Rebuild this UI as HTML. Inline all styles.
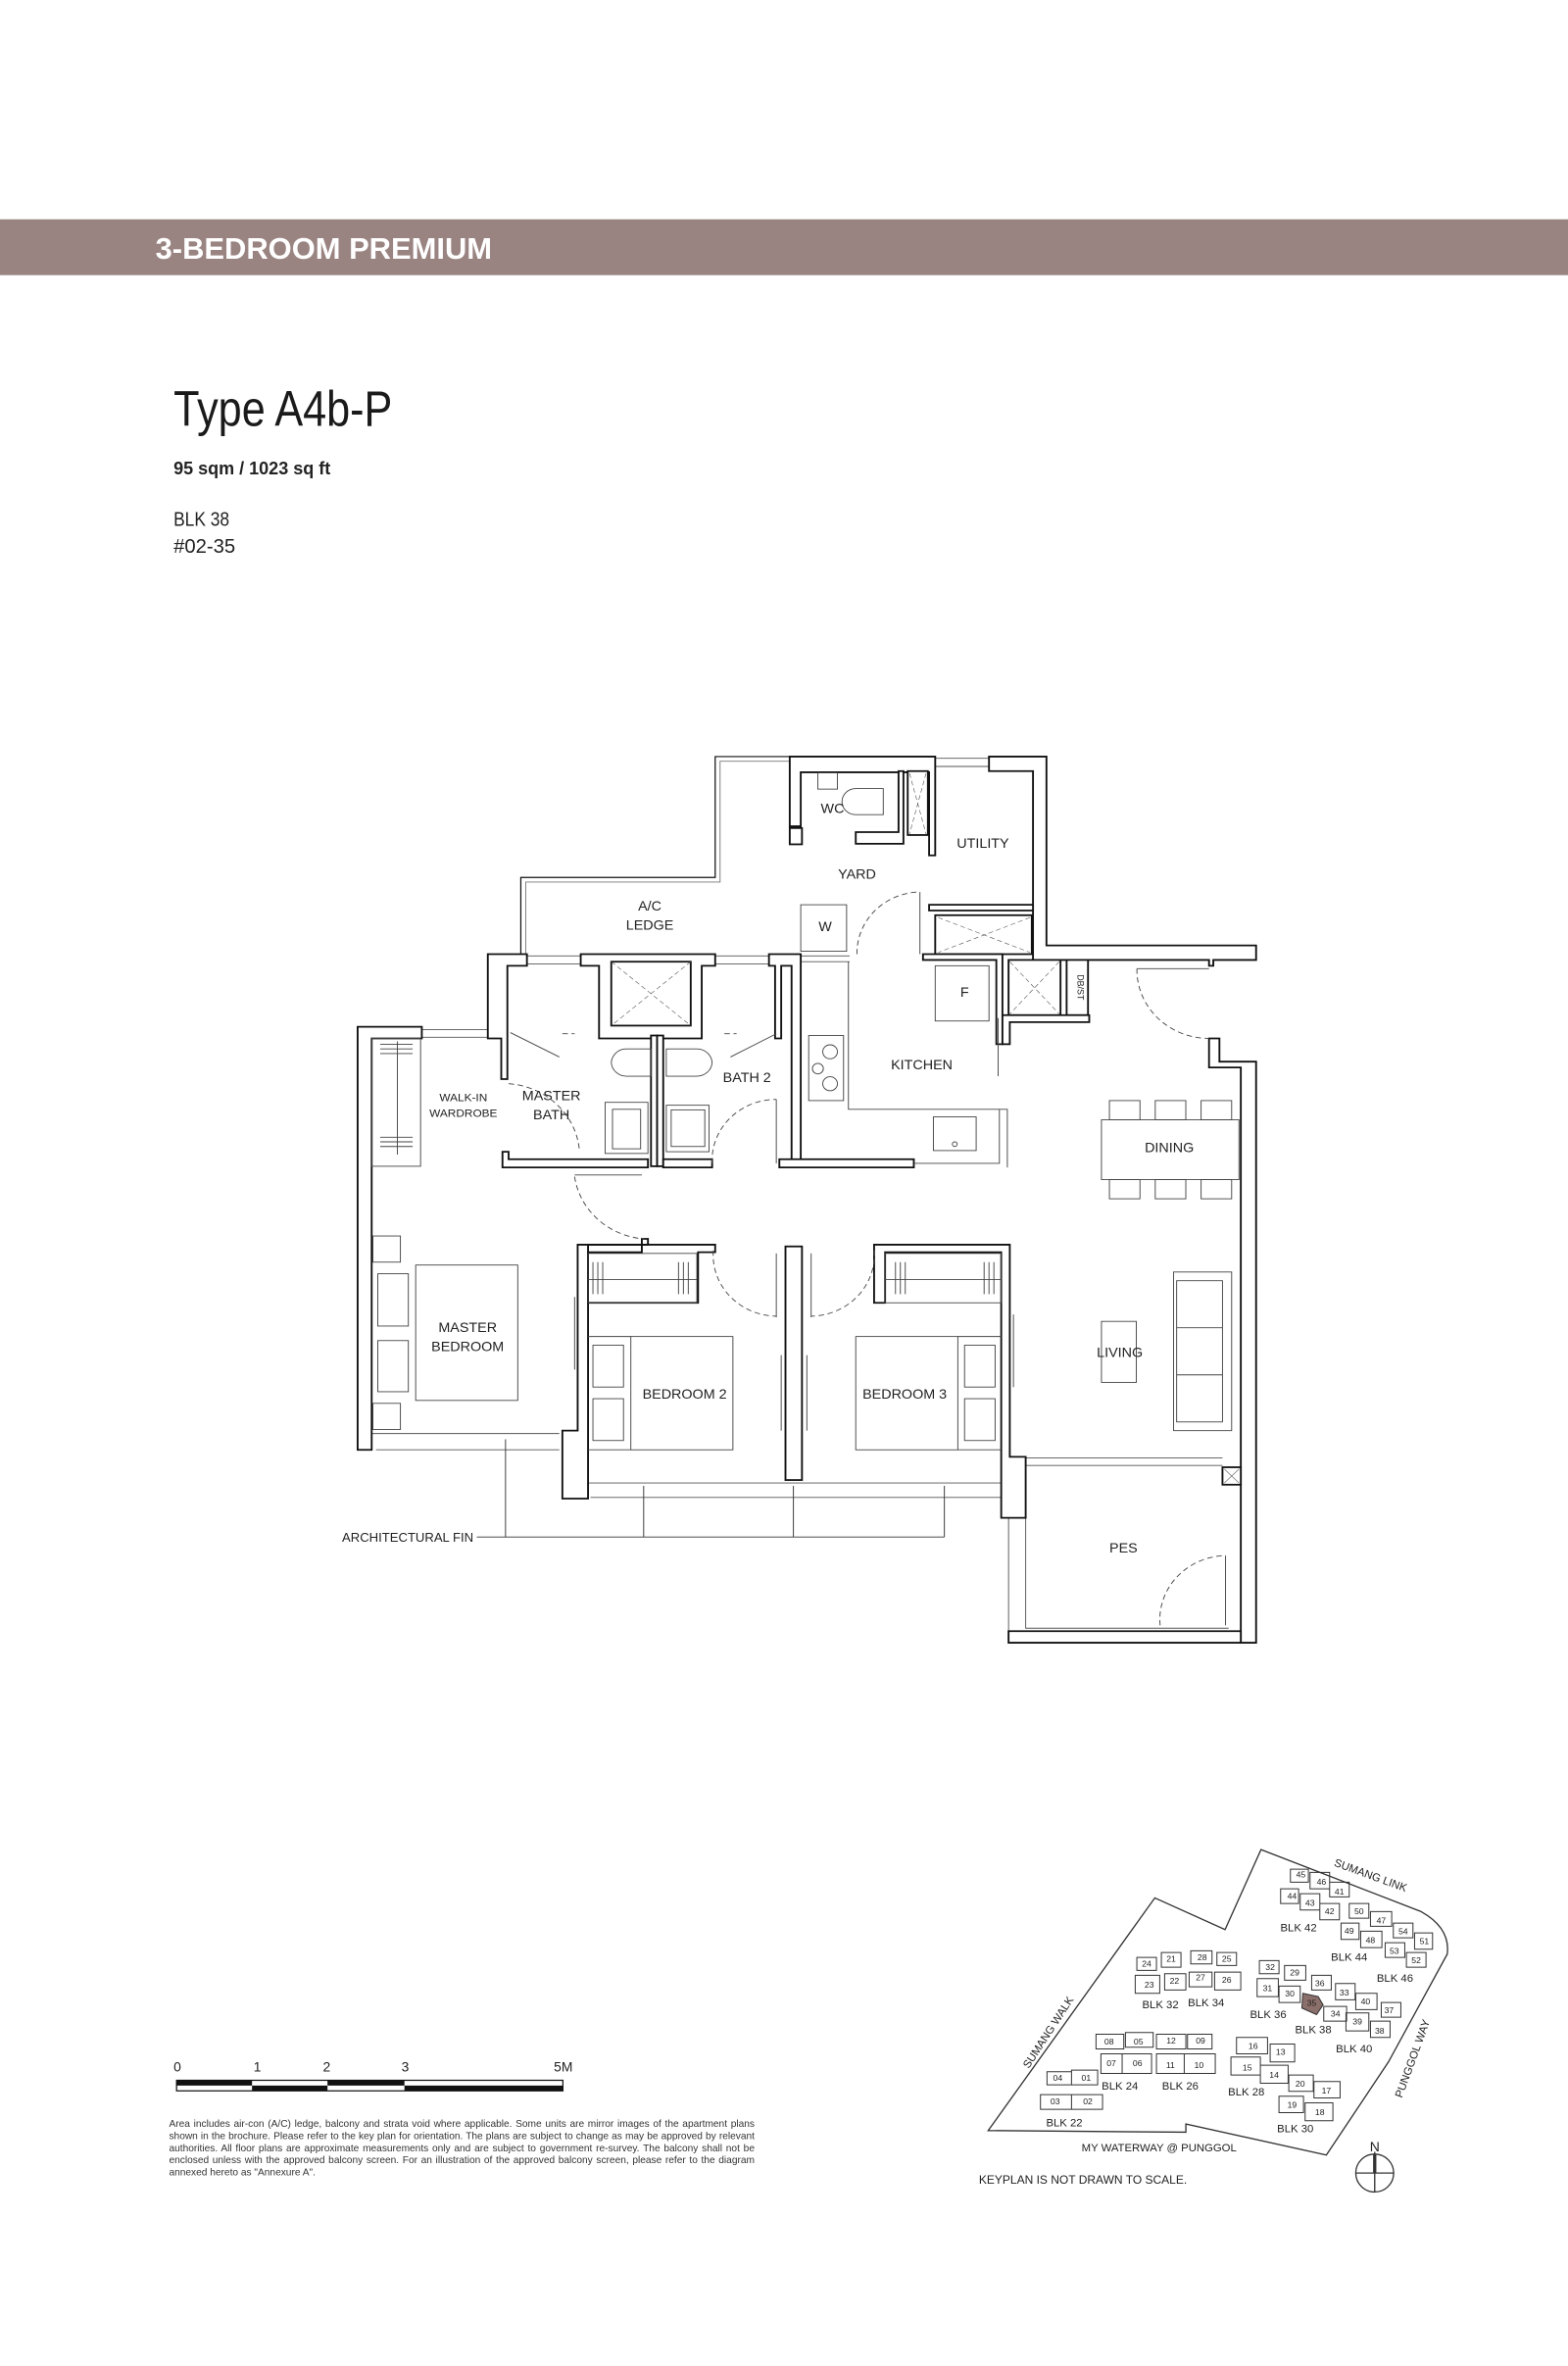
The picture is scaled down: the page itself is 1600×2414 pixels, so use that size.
<!DOCTYPE html>
<html><head><meta charset="utf-8"><style>
html,body{margin:0;padding:0;background:#fff}
svg{display:block}
text{font-family:"Liberation Sans",sans-serif;fill:#222}
.n{font-family:"Liberation Sans Narrow","Liberation Sans",sans-serif}
</style></head><body>
<svg width="1600" height="2414" viewBox="0 0 1039 1567" xmlns="http://www.w3.org/2000/svg">
<rect x="0" y="0" width="1039" height="1567" fill="#fff"/>
<rect x="0" y="145" width="1039" height="37" fill="#9a8482"/>
<text x="103" y="171" font-size="20" font-weight="bold" fill="#fff" style="fill:#fff" textLength="223" lengthAdjust="spacingAndGlyphs">3-BEDROOM PREMIUM</text>
<text class="n" x="115" y="282" font-size="33" style="fill:#1a1a1a" textLength="145" lengthAdjust="spacingAndGlyphs">Type A4b-P</text>
<text class="n" x="115" y="314" font-size="12" font-weight="bold" textLength="104" lengthAdjust="spacingAndGlyphs">95 sqm / 1023 sq ft</text>
<text class="n" x="115" y="348" font-size="13" textLength="37" lengthAdjust="spacingAndGlyphs">BLK 38</text>
<text class="n" x="115" y="366" font-size="13" textLength="41" lengthAdjust="spacingAndGlyphs">#02-35</text>

<!-- FLOOR PLAN in zoom coords -->
<g transform="translate(214.7,487.5) scale(0.405,0.385)" fill="none" stroke="#111" stroke-width="3">
 <path d="M322,375 V243 H640 V35 H762" stroke-width="2"/>
 <path d="M330,375 V251 H648 V43 H762" stroke-width="1.5" stroke="#777"/>
 <g stroke-width="1.5" stroke="#555">
  <path d="M332,378 H420 M332,392 H420 M640,378 H728 M640,392 H728 M160,505 H268 M160,518 H268 M1000,38 H1088 M1000,52 H1088 M780,378 H860 M780,388 H860"/>
  <path d="M78,1200 H385 M85,1228 H385 M430,1285 H1108 M436,1310 H1108 M1148,1242 H1470 M1148,1255 H1470 M1120,1345 V1560 M1148,1345 V1535 H1480"/>
 </g>
 <g fill="#fff">
  <path d="M55,500 H160 V520 H78 V1200 V1228 H55 Z"/>
  <path d="M268,375 H332 V395 H300 V590 H290 V520 H268 Z"/>
  <path d="M292,715 H302 V728 H530 V742 H292 Z"/>
  <path d="M420,375 H640 V395 H618 V520 H450 V395 H420 Z"/>
  <rect x="470" y="388" width="130" height="110"/>
  <rect x="535" y="515" width="10" height="225"/>
  <rect x="545" y="515" width="10" height="225"/>
  <path d="M728,375 H780 V740 H765 V395 H748 V520 H738 V395 H728 Z"/>
  <path d="M555,728 H635 V742 H555 Z M745,728 H965 V742 H745 Z"/>
  <path d="M762,35 H1000 V205 H990 V62 H780 V155 H762 Z"/>
  <rect x="762" y="158" width="20" height="28"/>
  <path d="M870,165 H940 V60 H948 V185 H870 Z"/>
  <rect x="955" y="60" width="33" height="110"/>
  <path d="M1088,35 H1182 V360 H1525 V385 H1455 V395 H1448 V385 H1160 V60 H1088 Z"/>
  <path d="M990,290 H1160 V300 H990 Z"/>
  <rect x="1000" y="308" width="158" height="67"/>
  <path d="M980,375 H1110 V530 H1100 V385 H980 Z"/>
  <rect x="1120" y="385" width="85" height="95"/>
  <rect x="1215" y="385" width="35" height="95"/>
  <path d="M1110,480 H1252 V492 H1122 V530 H1110 Z"/>
  <path d="M1448,520 H1465 V560 H1525 V1560 H1500 V570 H1448 Z"/>
  <path d="M390,1195 H415 V875 H530 V865 H520 V888 H432 V1312 H390 Z" />
  <path d="M432,875 H640 V888 H612 V975 H432 Z" fill="none"/>
  <rect x="755" y="878" width="27" height="402"/>
  <path d="M900,875 H1122 V1240 H1148 V1345 H1108 V888 H918 V975 H900 Z"/>
  <path d="M1120,1540 H1500 V1560 H1120 Z"/>
  <rect x="1470" y="1258" width="30" height="30"/>
 </g>
 <g stroke-width="1" stroke-dasharray="8,5" stroke="#555">
  <path d="M470,388 L600,498 M600,388 L470,498 M1005,312 L1155,372 M1155,312 L1005,372 M1122,388 L1203,478 M1203,388 L1122,478 M958,64 L985,168 M985,64 L958,168"/>
  <path d="M1473,1261 L1497,1285 M1497,1261 L1473,1285" stroke-dasharray="none"/>
 </g>
 <g stroke-width="1.5" stroke="#444">
  <rect x="78" y="520" width="80" height="220"/>
  <path d="M120,525 V720 M92,530 H145 M92,538 H145 M92,546 H145 M92,690 H145 M92,698 H145 M92,706 H145"/>
  <rect x="150" y="910" width="167" height="233"/>
  <rect x="88" y="925" width="50" height="90"/><rect x="88" y="1040" width="50" height="88"/>
  <rect x="80" y="860" width="45" height="45"/><rect x="80" y="1148" width="45" height="45"/>
  <rect x="432" y="890" width="178" height="85"/><path d="M432,935 H610 M440,905 V960 M448,905 V960 M456,905 V960 M580,905 V960 M588,905 V960 M596,905 V960"/>
  <rect x="502" y="1033" width="167" height="195"/><rect x="440" y="1048" width="50" height="72"/><rect x="440" y="1140" width="50" height="72"/><path d="M432,1033 H502 M432,1228 H502"/>
  <rect x="918" y="890" width="190" height="85"/><path d="M918,935 H1108 M935,905 V960 M943,905 V960 M951,905 V960 M1080,905 V960 M1088,905 V960 M1096,905 V960"/>
  <rect x="870" y="1033" width="167" height="195"/><rect x="1048" y="1048" width="50" height="72"/><rect x="1048" y="1140" width="50" height="72"/><path d="M1037,1033 H1108 M1037,1228 H1108"/>
  <rect x="1272" y="660" width="225" height="103"/>
  <rect x="1285" y="627" width="50" height="33"/><rect x="1360" y="627" width="50" height="33"/><rect x="1435" y="627" width="50" height="33"/>
  <rect x="1285" y="763" width="50" height="33"/><rect x="1360" y="763" width="50" height="33"/><rect x="1435" y="763" width="50" height="33"/>
  <rect x="1390" y="922" width="95" height="273"/><rect x="1395" y="937" width="75" height="243"/><path d="M1395,1018 H1470 M1395,1099 H1470"/>
  <rect x="1272" y="1007" width="57" height="105"/>
  <rect x="793" y="515" width="57" height="112"/><circle cx="828" cy="543" r="12"/><circle cx="828" cy="598" r="12"/><circle cx="808" cy="572" r="9"/>
  <rect x="997" y="655" width="70" height="58"/><circle cx="1032" cy="702" r="4"/>
  <rect x="1000" y="395" width="88" height="95"/>
  <path d="M858,388 V642 H1118 V742 M1105,642 V735 H965"/>
  <path d="M870,90 H915 V135 H870 A22,22 0 0 1 870,90 Z"/>
  <rect x="808" y="63" width="32" height="28"/>
  <path d="M470,562 A25,25 0 0 1 495,538 H535 V585 H495 A25,25 0 0 1 470,562 Z"/>
  <rect x="460" y="630" width="70" height="88"/><rect x="472" y="642" width="46" height="68"/>
  <path d="M635,562 A25,25 0 0 0 610,538 H560 V585 H610 A25,25 0 0 0 635,562 Z"/>
  <rect x="560" y="635" width="70" height="80"/><rect x="568" y="643" width="55" height="63"/>
  <rect x="780" y="290" width="75" height="80"/>
 </g>
 <g stroke-width="1.5" stroke="#444" stroke-dasharray="9,6">
  <path d="M302,598 A125,125 0 0 1 418,715"/>
  <path d="M410,758 A125,125 0 0 0 523,865"/>
  <path d="M637,885 A105,105 0 0 0 740,998"/>
  <path d="M900,885 A105,105 0 0 1 797,998"/>
  <path d="M635,735 A105,105 0 0 1 740,625"/>
  <path d="M872,375 A105,105 0 0 1 975,268"/>
  <path d="M1330,400 A118,118 0 0 0 1448,520"/>
  <path d="M1368,1530 A110,110 0 0 1 1475,1410"/>
  <path d="M390,512 L410,512 M655,512 L675,512"/>
 </g>
 <g stroke-width="1.5" stroke="#444">
  <path d="M305,510 L385,552 M740,512 L665,552 M1475,1410 V1530 M740,625 V735 M975,268 V375 M1330,400 H1448 M1103,485 V585 M410,755 H520"/>
  <path d="M410,965 V1090 M1128,995 V1120 M748,1065 V1195 M790,1065 V1195 M740,890 V1000 M797,890 V1000"/>
 </g>
 <g stroke-width="1.5" stroke="#333">
  <path d="M250,1378 H1015 M297,1210 V1378 M523,1290 V1378 M768,1290 V1378 M1015,1290 V1378"/>
 </g>
 <g stroke="none" fill="#222" font-size="23" text-anchor="middle">
  <text x="832" y="132">WC</text>
  <text x="1078" y="192">UTILITY</text>
  <text x="872" y="245">YARD</text>
  <text x="820" y="335">W</text>
  <text x="533" y="300">A/C</text><text x="533" y="333">LEDGE</text>
  <text x="1048" y="448">F</text>
  <text x="978" y="573">KITCHEN</text>
  <text x="228" y="628" font-size="19">WALK-IN</text><text x="228" y="655" font-size="19">WARDROBE</text>
  <text x="372" y="626">MASTER</text><text x="372" y="659">BATH</text>
  <text x="692" y="595">BATH 2</text>
  <text x="1383" y="716">DINING</text>
  <text x="235" y="1025">MASTER</text><text x="235" y="1058">BEDROOM</text>
  <text x="590" y="1140">BEDROOM 2</text>
  <text x="950" y="1140">BEDROOM 3</text>
  <text x="1302" y="1068">LIVING</text>
  <text x="1308" y="1405">PES</text>
  <text x="137" y="1386" font-size="21">ARCHITECTURAL FIN</text>
  <text x="1233" y="432" font-size="15" transform="rotate(90 1233 432)">DB/ST</text>
 </g>
</g>

<g font-size="9" class="n">
 <text x="115" y="1372">0</text><text x="168" y="1372">1</text><text x="214" y="1372">2</text><text x="266" y="1372">3</text><text x="367" y="1372">5M</text>
</g>
<rect x="117" y="1378" width="256" height="7" fill="#fff" stroke="#111" stroke-width="0.8"/>
<rect x="117" y="1378" width="50" height="3.5" fill="#111"/><rect x="167" y="1381.5" width="50" height="3.5" fill="#111"/>
<rect x="217" y="1378" width="51" height="3.5" fill="#111"/><rect x="268" y="1381.5" width="105" height="3.5" fill="#111"/>
<foreignObject x="112" y="1404" width="388" height="60">
 <div xmlns="http://www.w3.org/1999/xhtml" style="font-family:'Liberation Sans Narrow','Liberation Sans',sans-serif;font-size:6.6px;line-height:8.1px;text-align:justify;color:#333">Area includes air-con (A/C) ledge, balcony and strata void where applicable. Some units are mirror images of the apartment plans shown in the brochure. Please refer to the key plan for orientation. The plans are subject to change as may be approved by relevant authorities. All floor plans are approximate measurements only and are subject to government re-survey. The balcony shall not be enclosed unless with the approved balcony screen. For an illustration of the approved balcony screen, please refer to the diagram annexed hereto as "Annexure A".</div>
</foreignObject>

<g transform="translate(642.9,1207.8) scale(0.2165)" fill="none" stroke="#333" stroke-width="4">
 <path d="M55,940 L565,228 L780,325 L890,80 L1380,270 Q1470,320 1460,400 L1280,730 L1090,1015 L660,920 L660,945 Z"/>
 <g stroke-width="3">
  <path d="M980,140 h55 v40 h-55z M1040,150 h60 v50 h-60z M1100,180 h60 v45 h-60z M950,200 h55 v45 h-55z M1010,215 h60 v50 h-60z M1070,245 h60 v50 h-60z M1160,245 h60 v45 h-60z M1225,270 h65 v45 h-65z M1295,305 h60 v45 h-60z M1360,335 h55 v50 h-55z M1135,305 h55 v50 h-55z M1195,330 h65 v50 h-65z M1270,365 h60 v45 h-60z M1335,395 h60 v45 h-60z"/>
  <path d="M510,410 h60 v40 h-60z M585,395 h60 v45 h-60z M505,465 h75 v55 h-75z M595,460 h65 v50 h-65z M675,390 h65 v40 h-65z M755,395 h60 v40 h-60z M670,455 h70 v45 h-70z M748,455 h80 v55 h-80z"/>
  <path d="M885,420 h60 v40 h-60z M962,435 h65 v45 h-65z M878,475 h65 v55 h-65z M945,498 h65 v50 h-65z M1045,465 h60 v45 h-60z M1118,490 h60 v50 h-60z M1082,560 h70 v45 h-70z M1180,520 h65 v50 h-65z M1258,548 h60 v45 h-60z M1150,580 h70 v55 h-70z M1225,605 h60 v50 h-60z"/>
  <path d="M385,645 h85 v45 h-85z M475,640 h85 v45 h-85z M400,705 h65 v60 h-65z M465,705 h90 v60 h-90z M570,645 h90 v45 h-90z M665,645 h75 v45 h-75z M570,705 h85 v60 h-85z M655,705 h95 v60 h-95z"/>
  <path d="M815,655 h95 v50 h-95z M918,675 h75 v55 h-75z M798,715 h90 v55 h-90z M888,740 h85 v55 h-85z M975,770 h75 v50 h-75z M1052,790 h80 v50 h-80z M945,835 h75 v50 h-75z M1025,855 h85 v55 h-85z"/>
  <path d="M235,760 h75 v40 h-75z M310,755 h80 v45 h-80z M215,830 h95 v45 h-95z M310,830 h95 v45 h-95z"/>
 </g>
 <path d="M1018,520 L1065,530 L1080,555 L1060,585 L1015,565 Z" fill="#8b6f6b" stroke="#333" stroke-width="3"/>
 <g stroke="none" fill="#333" font-size="26" text-anchor="middle">
  <text x="1012" y="165">45</text><text x="1075" y="188">46</text><text x="1130" y="218">41</text><text x="985" y="232">44</text><text x="1040" y="253">43</text><text x="1100" y="278">42</text><text x="1190" y="278">50</text><text x="1258" y="306">47</text><text x="1325" y="340">54</text><text x="1390" y="370">51</text><text x="1160" y="338">49</text><text x="1225" y="366">48</text><text x="1298" y="400">53</text><text x="1365" y="428">52</text>
  <text x="540" y="438">24</text><text x="615" y="423">21</text><text x="548" y="503">23</text><text x="625" y="491">22</text><text x="710" y="418">28</text><text x="785" y="423">25</text><text x="705" y="480">27</text><text x="785" y="488">26</text>
  <text x="918" y="448">32</text><text x="993" y="465">29</text><text x="910" y="513">31</text><text x="978" y="530">30</text><text x="1070" y="498">36</text><text x="1145" y="526">33</text><text x="1045" y="558">35</text><text x="1118" y="591">34</text><text x="1210" y="553">40</text><text x="1282" y="580">37</text><text x="1185" y="615">39</text><text x="1253" y="643">38</text>
  <text x="425" y="676">08</text><text x="515" y="676">05</text><text x="432" y="743">07</text><text x="512" y="743">06</text><text x="615" y="673">12</text><text x="705" y="673">09</text><text x="613" y="748">11</text><text x="700" y="748">10</text>
  <text x="866" y="690">16</text><text x="950" y="708">13</text><text x="848" y="756">15</text><text x="930" y="778">14</text><text x="1010" y="805">20</text><text x="1090" y="826">17</text><text x="985" y="870">19</text><text x="1070" y="893">18</text>
  <text x="268" y="788">04</text><text x="355" y="788">01</text><text x="260" y="860">03</text><text x="360" y="860">02</text>
  <g font-size="34">
   <text x="1005" y="330">BLK 42</text><text x="1160" y="420">BLK 44</text><text x="1300" y="485">BLK 46</text><text x="582" y="565">BLK 32</text><text x="722" y="560">BLK 34</text><text x="912" y="595">BLK 36</text><text x="1050" y="642">BLK 38</text><text x="1175" y="700">BLK 40</text><text x="458" y="815">BLK 24</text><text x="643" y="815">BLK 26</text><text x="845" y="832">BLK 28</text><text x="995" y="945">BLK 30</text><text x="288" y="927">BLK 22</text>
   <text x="1225" y="170" transform="rotate(20 1225 160)">SUMANG LINK</text>
   <text x="240" y="650" transform="rotate(-57 240 640)">SUMANG WALK</text>
   <text x="1355" y="730" transform="rotate(-70 1355 720)">PUNGGOL WAY</text>
   <text x="578" y="1003">MY WATERWAY @ PUNGGOL</text>
  </g>
  <text x="345" y="1103" font-size="36">KEYPLAN IS NOT DRAWN TO SCALE.</text>
  <text x="1238" y="1003" font-size="42">N</text>
 </g>
 <circle cx="1238" cy="1070" r="58"/>
 <path d="M1180,1070 H1296 M1238,1005 V1128"/>
 <path d="M1238,1012 V1070" stroke-width="10"/>
</g>
</svg>
</body></html>
